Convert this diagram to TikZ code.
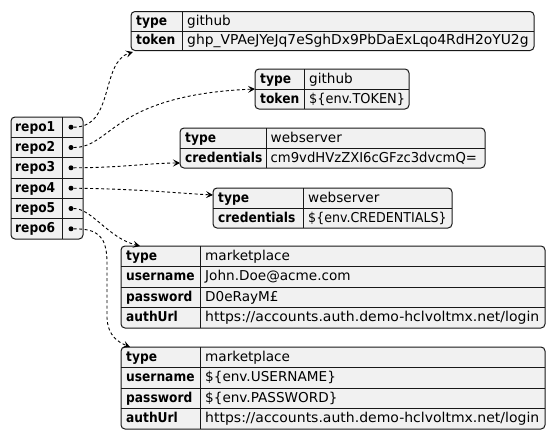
\documentclass[tikz,border=0pt]{standalone}
\usepackage{fontspec}
\usepackage{graphicx}
\setmainfont{DejaVu Sans}
\newfontfamily\keyfont{DejaVu Sans}[FakeStretch=0.9]
\usetikzlibrary{arrows.meta}
\definecolor{boxfill}{HTML}{F1F1F1}
\definecolor{edge}{HTML}{181818}
\newcommand\hsc[2]{\scalebox{#1}[1]{#2}}
\tikzset{
  jbox/.style={draw=edge, fill=boxfill, line width=1pt, rounded corners=4pt,
    inner sep=0pt, outer sep=0pt, anchor=north west},
  sep/.style={draw=edge, line width=1pt},
  key/.style={anchor=west, inner sep=0pt, text height=10.5pt, text depth=2.5pt,
    font=\keyfont\bfseries\fontsize{13.6}{16}\selectfont},
  val/.style={anchor=west, inner sep=0pt, text height=10.5pt, text depth=2.5pt,
    font=\fontsize{13.6}{16}\selectfont},
  dotn/.style={circle, fill=black, inner sep=0pt, minimum size=5pt},
  link/.style={draw=black, line width=0.9pt, dash pattern=on 3pt off 2.5pt,
    -{Stealth[length=7pt,width=7pt,inset=3pt]}},
}
\begin{document}
\begin{tikzpicture}[x=1pt,y=-1pt]
\useasboundingbox (0,0) rectangle (556,439);

% ---------- repo box ----------
\node[jbox, minimum width=72pt, minimum height=122pt] (R) at (11,117) {};
\draw[sep] (62,117) -- (62,239);
\foreach \yy in {137.3,157.7,178,198.3,218.7}{\draw[sep] (11,\yy) -- (83,\yy);}
\node[key] (r1) at (15,127.2) {repo1};
\node[key] (r2) at (15,147.5) {repo2};
\node[key] (r3) at (15,167.8) {repo3};
\node[key] (r4) at (15,188.2) {repo4};
\node[key] (r5) at (15,208.5) {repo5};
\node[key] (r6) at (15,228.8) {repo6};
\node[dotn] (d1) at (71,127.2) {};
\node[dotn] (d2) at (71,147.5) {};
\node[dotn] (d3) at (71,167.8) {};
\node[dotn] (d4) at (71,188.2) {};
\node[dotn] (d5) at (71,208.5) {};
\node[dotn] (d6) at (71,228.8) {};

% ---------- box 1 ----------
\node[jbox, minimum width=403pt, minimum height=39pt] (B1) at (131,11.5) {};
\draw[sep] (182,11.5) -- (182,50.5);
\draw[sep] (131,31) -- (534,31);
\node[key] (b1k1) at (136,21.25) {type};
\node[val] (b1v1) at (187,21.25) {github};
\node[key] (b1k2) at (136,40.75) {token};
\node[val] (b1v2) at (187,40.75) {\hsc{1.02}{ghp\_VPAeJYeJq7eSghDx9PbDaExLqo4RdH2oYU2g}};

% ---------- box 2 ----------
\node[jbox, minimum width=154pt, minimum height=40pt] (B2) at (255,69) {};
\draw[sep] (304,69) -- (304,109);
\draw[sep] (255,89) -- (409,89);
\node[key] (b2k1) at (260,79) {type};
\node[val] (b2v1) at (309,79) {github};
\node[key] (b2k2) at (260,99) {token};
\node[val] (b2v2) at (309,99) {\hsc{0.95}{\$\{env.TOKEN\}}};

% ---------- box 3 ----------
\node[jbox, minimum width=305pt, minimum height=40pt] (B3) at (180,128) {};
\draw[sep] (266,128) -- (266,168);
\draw[sep] (180,148) -- (485,148);
\node[key] (b3k1) at (185,138) {type};
\node[val] (b3v1) at (270.5,138) {webserver};
\node[key] (b3k2) at (185,158) {credentials};
\node[val] (b3v2) at (270.5,158) {\hsc{0.97}{cm9vdHVzZXI6cGFzc3dvcmQ=}};

% ---------- box 4 ----------
\node[jbox, minimum width=239pt, minimum height=40pt] (B4) at (213,188) {};
\draw[sep] (303,188) -- (303,228);
\draw[sep] (213,208) -- (452,208);
\node[key] (b4k1) at (218,198) {type};
\node[val] (b4v1) at (308,198) {webserver};
\node[key] (b4k2) at (218,218) {credentials};
\node[val] (b4v2) at (308,218) {\hsc{0.93}{\$\{env.CREDENTIALS\}}};

% ---------- box 5 ----------
\node[jbox, minimum width=424pt, minimum height=82pt] (B5) at (121,246) {};
\draw[sep] (200,246) -- (200,328);
\foreach \yy in {266.5,287,307.5}{\draw[sep] (121,\yy) -- (545,\yy);}
\node[key] (b5k1) at (126,256.25) {type};
\node[val] (b5v1) at (205,256.25) {marketplace};
\node[key] (b5k2) at (126,276.75) {username};
\node[val] (b5v2) at (205,276.75) {John.Doe@acme.com};
\node[key] (b5k3) at (126,297.25) {password};
\node[val] (b5v3) at (205,297.25) {D0eRayM£};
\node[key] (b5k4) at (126,317.75) {authUrl};
\node[val] (b5v4) at (205,317.75) {\hsc{1.03}{https://accounts.auth.demo-hclvoltmx.net/login}};

% ---------- box 6 ----------
\node[jbox, minimum width=424pt, minimum height=82pt] (B6) at (121,347) {};
\draw[sep] (200,347) -- (200,429);
\foreach \yy in {367.5,388,408.5}{\draw[sep] (121,\yy) -- (545,\yy);}
\node[key] (b6k1) at (126,357.25) {type};
\node[val] (b6v1) at (205,357.25) {marketplace};
\node[key] (b6k2) at (126,377.75) {username};
\node[val] (b6v2) at (205,377.75) {\$\{env.USERNAME\}};
\node[key] (b6k3) at (126,398.25) {password};
\node[val] (b6v3) at (205,398.25) {\$\{env.PASSWORD\}};
\node[key] (b6k4) at (126,418.75) {authUrl};
\node[val] (b6v4) at (205,418.75) {\hsc{1.03}{https://accounts.auth.demo-hclvoltmx.net/login}};

% ---------- connectors ----------
\draw[link] (d1.east) .. controls (115,127.2) and (100,62) .. ([xshift=2pt,yshift=-1.5pt]B1.south west);
\draw[link] (d2.east) .. controls (112,147.5) and (112,95) .. (B2.west);
\draw[link] (d3.east) .. controls (120,167.8) and (150,163) .. ([yshift=-15pt]B3.west);
\draw[link] (d4.east) .. controls (140,189) and (175,193) .. ([yshift=13pt]B4.west);
\draw[link] (d5.east) .. controls (92,208.5) and (108,238) .. ([xshift=19pt]B5.north west);
\draw[link] (d6.east) .. controls (98,228.8) and (106,236) .. (107,260) -- (107,318)
  .. controls (108,336) and (118,342) .. ([xshift=9pt]B6.north west);
\end{tikzpicture}
\end{document}
